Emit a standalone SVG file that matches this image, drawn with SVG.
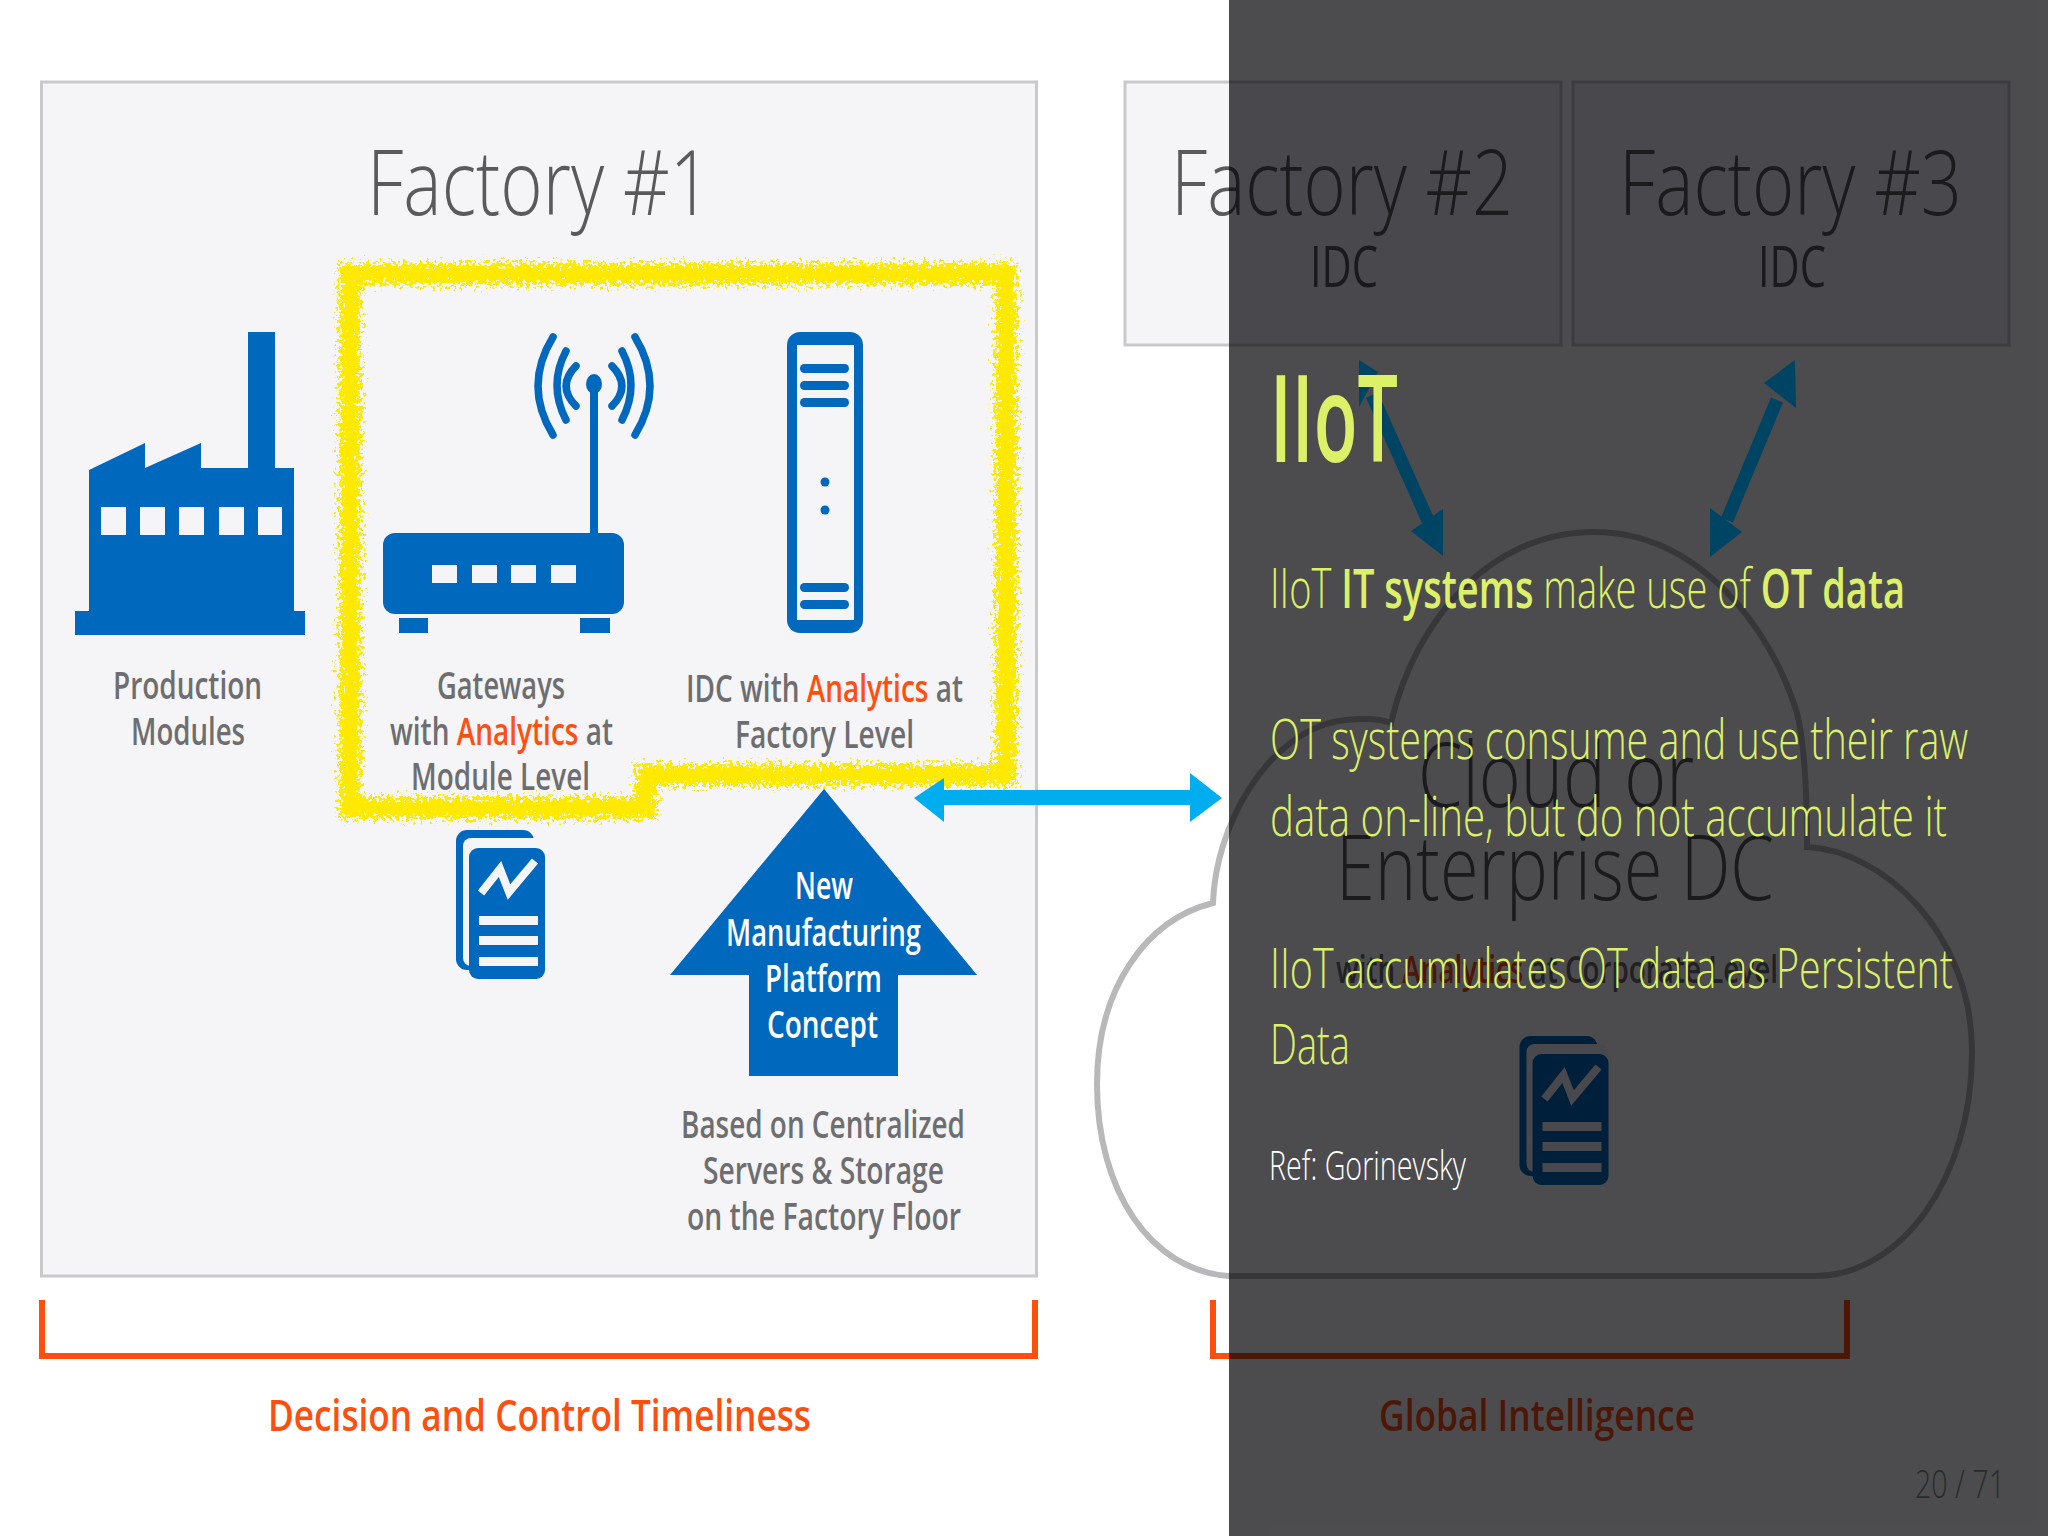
<svg xmlns="http://www.w3.org/2000/svg" width="2048" height="1536" viewBox="0 0 2048 1536">
<style>
text{font-family:"Open Sans","Noto Sans","Liberation Sans",sans-serif}
.panel{fill:#f5f5f7;stroke:#c9c9cb;stroke-width:3}
.big{font-size:91px;font-weight:300;fill:#5a5a5d}
.mid{font-size:56px;font-weight:400;fill:#57575a}
.lab{font-size:37px;font-weight:600;fill:#6e6e70}
.wht{font-size:37px;font-weight:600;fill:#fff}
.or{fill:#ff4f0f}
.blue{fill:#0068bd}
.cut{fill:#f5f5f7}
.bar{fill:#0068bd}
.brk{fill:none;stroke:#ff4f0f;stroke-width:6}
.ttl{font-size:44px;font-weight:600;fill:#ff4f0f}
.y{fill:#dcf068;font-weight:300;font-size:55px}
.b{font-weight:600}
.dk{fill:#00aeef}
.dim{fill:#004464}
.dline{stroke:#004464;stroke-width:13;fill:none}
.arc{fill:none;stroke:#0068bd;stroke-width:7.500;stroke-linecap:round}
</style>
<defs>
<filter id="rough" x="-5%" y="-5%" width="110%" height="110%"><feTurbulence type="fractalNoise" baseFrequency="0.3" numOctaves="4" seed="4"/><feDisplacementMap in="SourceGraphic" scale="26" xChannelSelector="R" yChannelSelector="G"/></filter>
<g id="doc">
<rect x="456" y="830" width="78" height="140" rx="11" class="blue"/>
<rect x="463" y="838" width="82" height="128" rx="8" fill="#f5f5f7"/>
<rect x="469" y="848" width="76" height="131" rx="9" class="blue"/>
<path d="M481 893L500 869L509 892L535 861" fill="none" stroke="#f5f5f7" stroke-width="8"/>
<rect x="479" y="916" width="59" height="9" class="cut"/><rect x="479" y="936" width="59" height="9" class="cut"/><rect x="479" y="957" width="59" height="9" class="cut"/>
</g>
</defs>
<rect width="2048" height="1536" fill="#fff"/>

<g id="factory1">
<rect class="panel" x="41.500" y="82" width="995" height="1194"/>
<text class="big" x="367" y="215" textLength="344" lengthAdjust="spacingAndGlyphs">Factory #1</text>
</g>
<g id="factory2">
<rect class="panel" x="1125" y="82" width="436" height="263"/>
<text class="big" x="1171" y="215" textLength="342" lengthAdjust="spacingAndGlyphs">Factory #2</text>
<text class="mid" x="1310" y="287" textLength="68" lengthAdjust="spacingAndGlyphs">IDC</text>
</g>
<g id="factory3">
<rect class="panel" x="1573" y="82" width="436" height="263"/>
<text class="big" x="1619" y="215" textLength="343" lengthAdjust="spacingAndGlyphs">Factory #3</text>
<text class="mid" x="1758" y="287" textLength="68" lengthAdjust="spacingAndGlyphs">IDC</text>
</g>

<g id="production-modules">
<path class="blue" d="M248 332H275V468H294V611H305V635H75V611H89V470L145 443V468L201 443V468H248Z"/>
<rect class="cut" x="101" y="507" width="25" height="28"/><rect class="cut" x="140" y="507" width="25" height="28"/><rect class="cut" x="179" y="507" width="25" height="28"/><rect class="cut" x="219" y="507" width="25" height="28"/><rect class="cut" x="258" y="507" width="24" height="28"/>
<text class="lab" x="113" y="699" textLength="149" lengthAdjust="spacingAndGlyphs">Production</text>
<text class="lab" x="131" y="745" textLength="114" lengthAdjust="spacingAndGlyphs">Modules</text>
</g>

<g id="highlight">
<path d="M350 274H1006V775H646V808H350Z" fill="none" stroke="#ffe900" stroke-width="21" filter="url(#rough)"/>
</g>

<g id="gateway">
<rect class="blue" x="383" y="533" width="241" height="81" rx="12"/>
<rect class="blue" x="399" y="618" width="29" height="15"/><rect class="blue" x="580" y="618" width="30" height="15"/>
<rect class="cut" x="432" y="565" width="25" height="18"/><rect class="cut" x="472" y="565" width="25" height="18"/><rect class="cut" x="511" y="565" width="25" height="18"/><rect class="cut" x="551" y="565" width="25" height="18"/>
<rect class="blue" x="590" y="384" width="8" height="150"/>
<ellipse class="blue" cx="594" cy="384" rx="8" ry="10"/>
<path class="arc" d="M553 337Q523 386 553 435M566 351Q548 385 566 420M576 366Q556 386 576 406M635 337Q665 386 635 435M622 351Q640 385 622 420M612 366Q632 386 612 406"/>
<text class="lab" x="437" y="699" textLength="128" lengthAdjust="spacingAndGlyphs">Gateways</text>
<text class="lab" x="390" y="745" textLength="223" lengthAdjust="spacingAndGlyphs">with <tspan class="or">Analytics</tspan> at</text>
<text class="lab" x="411" y="790" textLength="179" lengthAdjust="spacingAndGlyphs">Module Level</text>
</g>

<g id="idc-server">
<rect class="blue" x="787" y="332" width="76" height="301" rx="13"/>
<rect class="cut" x="797" y="345" width="57" height="275"/>
<rect class="bar" x="800" y="364" width="49" height="9" rx="4.500"/><rect class="bar" x="800" y="381" width="49" height="9" rx="4.500"/><rect class="bar" x="800" y="398" width="49" height="9" rx="4.500"/>
<rect class="bar" x="800" y="583" width="49" height="9" rx="4.500"/><rect class="bar" x="800" y="600" width="49" height="9" rx="4.500"/>
<circle class="blue" cx="825" cy="482" r="4.500"/><circle class="blue" cx="825" cy="510" r="4.500"/>
<text class="lab" x="686" y="702" textLength="277" lengthAdjust="spacingAndGlyphs">IDC with <tspan class="or">Analytics</tspan> at</text>
<text class="lab" x="735" y="748" textLength="179" lengthAdjust="spacingAndGlyphs">Factory Level</text>
</g>

<g id="document-1"><use href="#doc"/></g>

<g id="platform-concept">
<path class="blue" d="M824 789L977 975H898V1076H749V975H670Z"/>
<text class="wht" x="795" y="899" textLength="58" lengthAdjust="spacingAndGlyphs">New</text>
<text class="wht" x="726" y="946" textLength="195" lengthAdjust="spacingAndGlyphs">Manufacturing</text>
<text class="wht" x="765" y="992" textLength="117" lengthAdjust="spacingAndGlyphs">Platform</text>
<text class="wht" x="767" y="1038" textLength="111" lengthAdjust="spacingAndGlyphs">Concept</text>
<text class="lab" x="681" y="1138" textLength="284" lengthAdjust="spacingAndGlyphs">Based on Centralized</text>
<text class="lab" x="703" y="1184" textLength="241" lengthAdjust="spacingAndGlyphs">Servers &amp; Storage</text>
<text class="lab" x="687" y="1230" textLength="274" lengthAdjust="spacingAndGlyphs">on the Factory Floor</text>
</g>

<g id="cloud">
<path d="M1228 1276C1150 1270 1097 1190 1097 1084C1097 990 1145 920 1213 903C1215 830 1265 730 1345 720C1365 718 1380 718 1391 723C1415 620 1490 532 1594 532C1700 532 1772 630 1797 713C1805 745 1807 790 1807 847C1880 850 1972 930 1972 1052C1972 1180 1900 1276 1815 1276Z" fill="#fff" stroke="#b8b8ba" stroke-width="6"/>
<text class="big" x="1418" y="807" textLength="276" lengthAdjust="spacingAndGlyphs">Cloud or</text>
<text class="big" x="1336" y="900" textLength="438" lengthAdjust="spacingAndGlyphs">Enterprise DC</text>
<text class="lab" x="1336" y="983" textLength="442" lengthAdjust="spacingAndGlyphs">with <tspan class="or">Analytics</tspan> at Corporate Level</text>
<use href="#doc" transform="translate(1063.500 206)"/>
</g>

<g id="link-blue">
<path class="dk" d="M914 798L944 778V790H1190V773L1222 798L1190 822V805H944V822Z"/>
</g>

<g id="brackets">
<path class="brk" d="M42 1300V1356H1035V1300"/>
<path class="brk" d="M1213 1300V1356H1847V1300"/>
<text class="ttl" x="268" y="1431" textLength="543" lengthAdjust="spacingAndGlyphs">Decision and Control Timeliness</text>
<text class="ttl" x="1379" y="1431" textLength="316" lengthAdjust="spacingAndGlyphs">Global Intelligence</text>
</g>

<rect id="overlay" x="1229" y="0" width="819" height="1536" fill="#000004" fill-opacity="0.7"/>

<g id="connectors">
<path class="dline" d="M1372 395L1430 525"/>
<path class="dim" d="M1359 360L1378 372L1359 407Z"/>
<path class="dim" d="M1443 556L1411 531L1443 509Z"/>
<path class="dline" d="M1777 400L1727 520"/>
<path class="dim" d="M1795 360L1764 383L1796 408Z"/>
<path class="dim" d="M1710 557L1710 508L1742 532Z"/>
</g>

<g id="slide-text">
<text class="y b" style="font-size:122px" x="1270" y="462" textLength="128" lengthAdjust="spacingAndGlyphs">IIoT</text>
<text class="y" x="1270" y="608" textLength="635" lengthAdjust="spacingAndGlyphs">IIoT <tspan class="b">IT systems</tspan> make use of <tspan class="b">OT data</tspan></text>
<text class="y" x="1270" y="759" textLength="698" lengthAdjust="spacingAndGlyphs">OT systems consume and use their raw</text>
<text class="y" x="1270" y="836" textLength="677" lengthAdjust="spacingAndGlyphs">data on-line, but do not accumulate it</text>
<text class="y" x="1270" y="988" textLength="683" lengthAdjust="spacingAndGlyphs">IIoT accumulates OT data as Persistent</text>
<text class="y" x="1270" y="1064" textLength="80" lengthAdjust="spacingAndGlyphs">Data</text>
<text x="1269" y="1180" font-size="40" font-weight="300" fill="#fff" textLength="197" lengthAdjust="spacingAndGlyphs">Ref: Gorinevsky</text>
<text x="1915" y="1498" font-size="38" font-weight="300" fill="#2a2a2a" textLength="90" lengthAdjust="spacingAndGlyphs">20 / 71</text>
</g>
</svg>
